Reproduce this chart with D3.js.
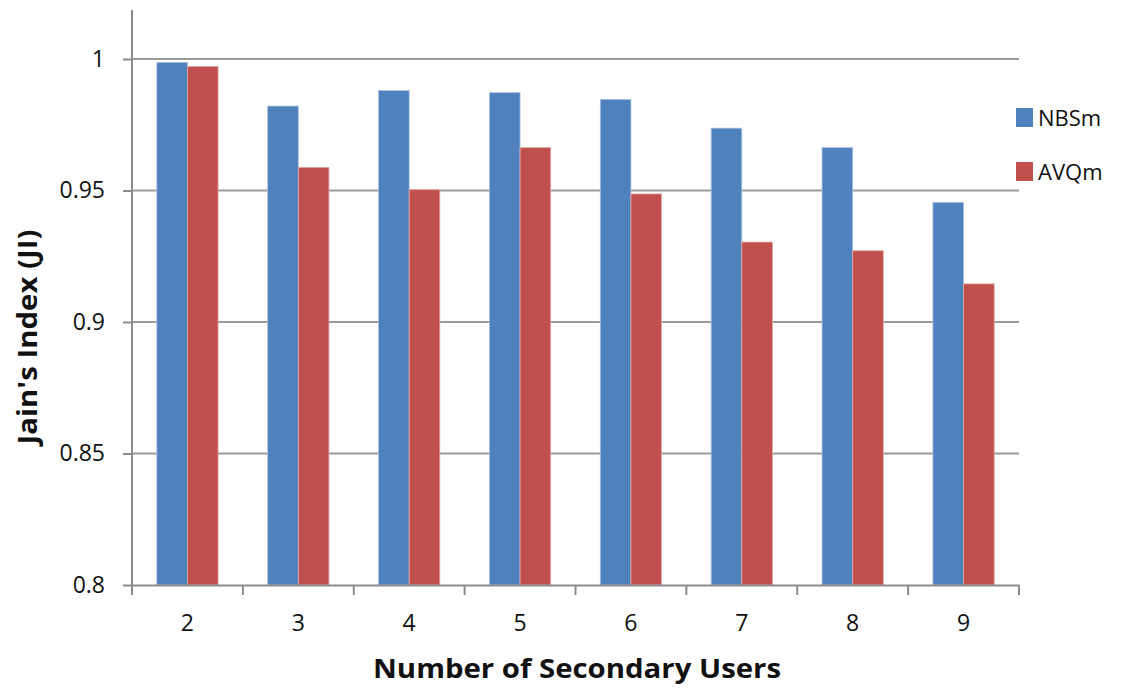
<!DOCTYPE html>
<html><head><meta charset="utf-8">
<script src="https://cdn.jsdelivr.net/npm/d3@7"></script>
<style>
html,body{margin:0;padding:0;background:#fff;}
svg{display:block;}
text{font-family:"Open Sans","DejaVu Sans",sans-serif;fill:#111;}
</style></head>
<body>
<svg id="chart" width="1122" height="688"></svg>
<script>
const categories = ["2","3","4","5","6","7","8","9"];
const seriesNames = ["NBSm","AVQm"];
const nbsm = [0.9987,0.9821,0.9880,0.9872,0.9846,0.9737,0.9663,0.9455];
const avqm = [0.9972,0.9588,0.9503,0.9663,0.9487,0.9304,0.9271,0.9145];
const yTicks = [0.8,0.85,0.9,0.95,1];
const yTickLabels = ["0.8","0.85","0.9","0.95","1"];
const colors = ["#4F81BD","#C0504D"];
const strokes = ["#A9C0E0","#E3A8A6"];

(function(){
const svg = d3.select("#chart");
const mLeft = 132, mRight = 1019, mTop = 59, mBottom = 585;

const x0 = d3.scaleBand().domain(categories).range([mLeft, mRight]).padding(0);
const x1 = d3.scaleBand().domain(seriesNames).range([0, x0.bandwidth()]).paddingInner(0).paddingOuter(0.81);
const y = d3.scaleLinear().domain([0.8, 1]).range([mBottom, mTop]);

// gridlines
svg.append("g").selectAll("line").data(yTicks.filter(d => d > 0.8)).join("line")
  .attr("x1", mLeft).attr("x2", mRight)
  .attr("y1", d => y(d)).attr("y2", d => y(d))
  .attr("stroke", "#9a9a9a").attr("stroke-width", 2);

// bars
const data = categories.map((c, i) => ({c, vals: [nbsm[i], avqm[i]]}));
const groups = svg.append("g").selectAll("g").data(data).join("g")
  .attr("transform", d => `translate(${x0(d.c)},0)`);
groups.selectAll("rect").data(d => d.vals.map((v, j) => ({v, j, s: seriesNames[j]}))).join("rect")
  .attr("x", d => x1(d.s)).attr("width", x1.bandwidth())
  .attr("y", d => y(d.v)).attr("height", d => y(0.8) - y(d.v))
  .attr("fill", d => colors[d.j])
  .attr("stroke", d => strokes[d.j]).attr("stroke-width", 0.8);

// y axis
const yAxis = d3.axisLeft(y).tickValues(yTicks).tickFormat((d, i) => yTickLabels[i])
  .tickSize(9).tickSizeOuter(0).tickPadding(18);
const gy = svg.append("g").attr("transform", `translate(${mLeft},0)`).call(yAxis);
gy.select(".domain").attr("d", `M0,10V${mBottom}`).attr("stroke", "#8c8c8c").attr("stroke-width", 2);
gy.selectAll(".tick line").attr("stroke", "#8c8c8c").attr("stroke-width", 2);
gy.selectAll(".tick text").attr("font-size", 23).attr("fill", "#1a1a2a")
  .attr("font-family", "'Open Sans', sans-serif");

// x axis
const xAxis = d3.axisBottom(x0).tickSize(0).tickPadding(30);
const gx = svg.append("g").attr("transform", `translate(0,${mBottom})`).call(xAxis);
gx.select(".domain").attr("stroke", "#8c8c8c").attr("stroke-width", 2);
gx.selectAll(".tick text").attr("font-size", 23).attr("fill", "#1a1a2a")
  .attr("font-family", "'Open Sans', sans-serif");
const bounds = categories.map(c => x0(c)).concat([mRight]);
gx.append("g").selectAll("line").data(bounds).join("line")
  .attr("x1", d => d).attr("x2", d => d).attr("y1", 0).attr("y2", 10)
  .attr("stroke", "#8c8c8c").attr("stroke-width", 2);

// axis titles
svg.append("text").attr("x", 577).attr("y", 678).attr("text-anchor", "middle")
  .attr("font-size", 27).attr("font-weight", "bold")
  .attr("textLength", 408).attr("lengthAdjust", "spacingAndGlyphs")
  .text("Number of Secondary Users");
svg.append("text").attr("transform", "translate(37,337) rotate(-90)").attr("text-anchor", "middle")
  .attr("font-size", 26).attr("font-weight", "bold")
  .attr("textLength", 215).attr("lengthAdjust", "spacingAndGlyphs")
  .text("Jain's Index (JI)");

// legend
const leg = svg.append("g").selectAll("g").data(seriesNames).join("g")
  .attr("transform", (d, i) => `translate(1016,${108 + i * 54})`);
leg.append("rect").attr("width", 17).attr("height", 19).attr("fill", (d, i) => colors[i]);
leg.append("text").attr("x", 22).attr("y", 10).attr("dy", "0.36em")
  .attr("font-size", 22).attr("fill", "#1a1a2a").text(d => d);
})();
</script>
</body></html>
